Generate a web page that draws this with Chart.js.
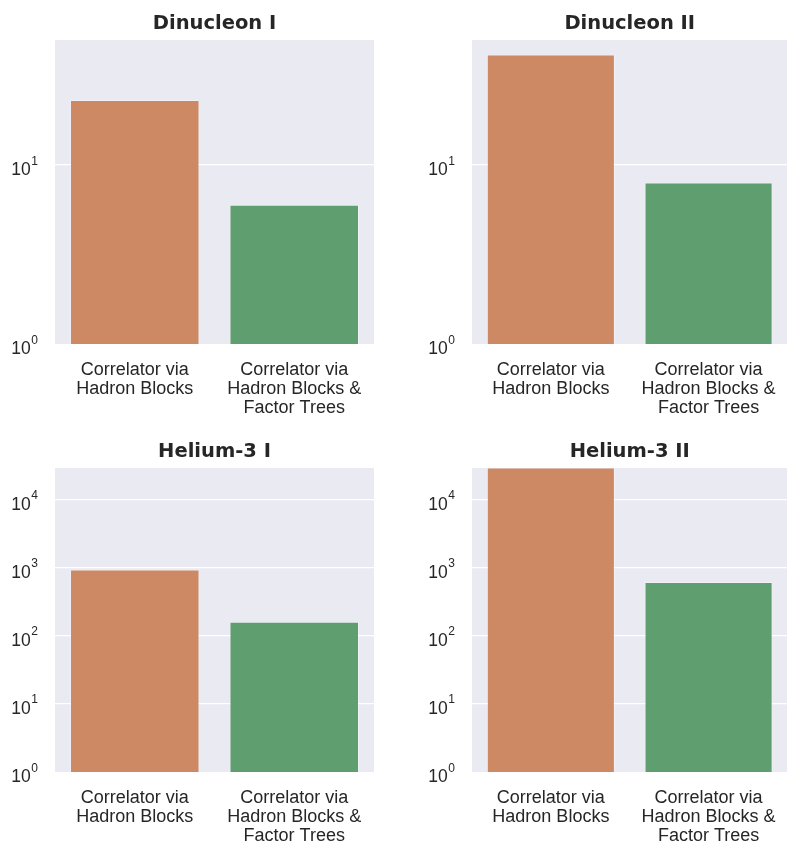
<!DOCTYPE html>
<html>
<head>
<meta charset="utf-8">
<script src="https://cdn.jsdelivr.net/npm/chart.js"></script>
<style>
  html, body { margin: 0; padding: 0; background: #fff; overflow: hidden; }
  body { width: 787px; height: 845px; position: relative; }
  canvas { position: absolute; }
</style>
</head>
<body>
<canvas id="c1" width="393" height="420" style="left:0;top:0;width:393px;height:420px"></canvas>
<canvas id="c2" width="400" height="420" style="left:393px;top:0;width:400px;height:420px"></canvas>
<canvas id="c3" width="393" height="415" style="left:0;top:430px;width:393px;height:415px"></canvas>
<canvas id="c4" width="400" height="415" style="left:393px;top:430px;width:400px;height:415px"></canvas>
<script>
// categories shared by all four panels
const categories = [
    ['Correlator via', 'Hadron Blocks'],
    ['Correlator via', 'Hadron Blocks &', 'Factor Trees']
];
const panelTitles = ['Dinucleon I', 'Dinucleon II', 'Helium-3 I', 'Helium-3 II'];

// values
const dinucleonI = [23.1, 6.0];
const dinucleonII = [41.5, 8.0];
const helium3I = [950, 162];
const helium3II = [30000, 620];   // first bar runs past the top of the axis

// y ticks / limits per row (rows share the y range)
const rowTicks = [[1, 10], [1, 10, 100, 1000, 10000]];
const rowMax = [50, 29500];

const barColors = ['#cc8963', '#5f9e6e'];

const panelDecor = {
    id: 'panelDecor',
    beforeDraw(chart) {
        const a = chart.chartArea;
        const ctx = chart.ctx;
        ctx.save();
        ctx.fillStyle = '#eaeaf2';
        ctx.fillRect(a.left, a.top, a.right - a.left, a.bottom - a.top);
        ctx.restore();
    },
    afterDraw(chart) {
        // y tick labels as 10 + superscript exponent
        const y = chart.scales.y;
        const ctx = chart.ctx;
        const right = chart.chartArea.left - 17;
        ctx.save();
        ctx.fillStyle = '#262626';
        ctx.textBaseline = 'alphabetic';
        ctx.textAlign = 'right';
        y.ticks.forEach(t => {
            const py = y.getPixelForValue(t.value);
            const exp = String(Math.round(Math.log10(t.value)));
            ctx.font = '12px "Liberation Sans"';
            const ew = ctx.measureText(exp).width;
            ctx.fillText(exp, right, py - 0.5);
            ctx.font = '17.5px "Liberation Sans"';
            ctx.fillText('10', right - ew - 0.5, py + 10);
        });
        ctx.restore();
    }
};

function makePanel(id, title, values, row, yAxisWidth, padRight, titlePadTop, xAxisHeight) {
    const ctx = document.getElementById(id).getContext('2d');
    return new Chart(ctx, {
        type: 'bar',
        data: {
            labels: categories,
            datasets: [{
                data: values,
                backgroundColor: barColors,
                borderColor: 'rgba(255,255,255,0.3)',
                borderWidth: 1,
                barPercentage: 0.812,
                categoryPercentage: 1.0
            }]
        },
        options: {
            responsive: false,
            animation: false,
            devicePixelRatio: 1,
            layout: { padding: { left: 0, right: padRight, top: 0, bottom: 0 } },
            scales: {
                x: {
                    grid: { display: false, drawTicks: false },
                    border: { display: false },
                    afterFit: (axis) => { axis.height = xAxisHeight; },
                    ticks: {
                        color: '#262626',
                        font: { family: 'Liberation Sans', size: 18, lineHeight: 1.07 },
                        padding: 16,
                        maxRotation: 0,
                        autoSkip: false
                    }
                },
                y: {
                    type: 'logarithmic',
                    min: 1,
                    max: rowMax[row],
                    afterBuildTicks: (axis) => {
                        axis.ticks = rowTicks[row].map(v => ({ value: v }));
                    },
                    afterFit: (axis) => { axis.width = yAxisWidth; },
                    ticks: { display: false },
                    grid: {
                        color: (c) => (c.tick && c.tick.value === 1 ? 'rgba(0,0,0,0)' : '#ffffff'),
                        lineWidth: 1.3,
                        drawTicks: false
                    },
                    border: { display: false }
                }
            },
            plugins: {
                legend: { display: false },
                tooltip: { enabled: false },
                title: {
                    display: true,
                    fullSize: false,
                    text: title,
                    color: '#262626',
                    font: { family: 'DejaVu Sans', size: 19.5, weight: 'bold', lineHeight: 1.2 },
                    padding: { top: titlePadTop, bottom: 4.3 }
                }
            }
        },
        plugins: [panelDecor]
    });
}

makePanel('c1', panelTitles[0], dinucleonI, 0, 55, 19, 12.3, 76);
makePanel('c2', panelTitles[1], dinucleonII, 0, 79, 0, 12.3, 76);
makePanel('c3', panelTitles[2], helium3I, 1, 55, 19, 10.3, 73);
makePanel('c4', panelTitles[3], helium3II, 1, 79, 0, 10.3, 73);
</script>
</body>
</html>
